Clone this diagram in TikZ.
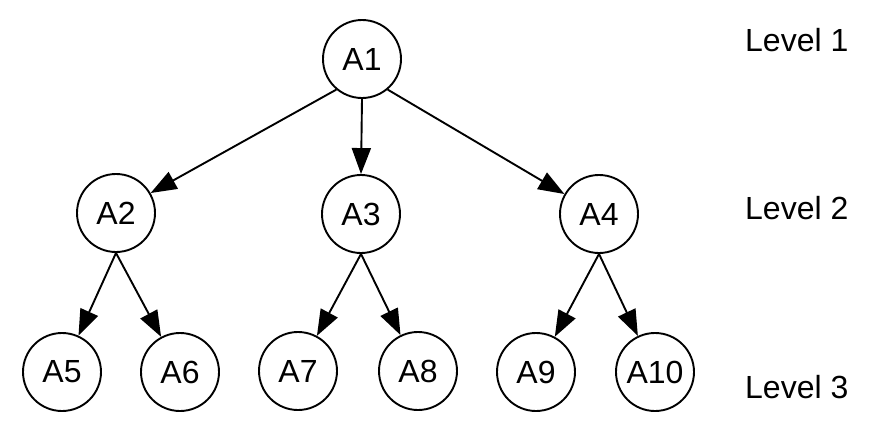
\documentclass[tikz,border=0pt]{standalone}
\usepackage{fontspec}
\setmainfont{Liberation Sans}
\usetikzlibrary{arrows.meta}
\begin{document}
\begin{tikzpicture}[x=1pt,y=-1pt,
  vert/.style={circle,draw,line width=1.9pt,minimum size=78pt,inner sep=0pt,font=\fontsize{32}{36}\selectfont},
  lvl/.style={anchor=west,inner sep=0pt,font=\fontsize{32}{36}\selectfont},
  conn/.style={line width=1.9pt,-{Triangle[length=26pt,width=19pt]}}]
\useasboundingbox (0,0) rectangle (895,429);
\node[vert] (A1) at (362,59) {A1};
\node[vert] (A2) at (116,213) {A2};
\node[vert] (A3) at (361,214) {A3};
\node[vert] (A4) at (599,214) {A4};
\node[vert] (A5) at (62,372) {A5};
\node[vert] (A6) at (180,372) {A6};
\node[vert] (A7) at (298,371) {A7};
\node[vert] (A8) at (418,371) {A8};
\node[vert] (A9) at (536,372) {A9};
\node[vert] (A10) at (655,372) {A10};
\node[lvl] (L1) at (745,40) {Level 1};
\node[lvl] (L2) at (745,208) {Level 2};
\node[lvl] (L3) at (745,387) {Level 3};
\draw[conn] (A1.230) -- (A2.30);
\draw[conn] (A1.south) -- (A3.north);
\draw[conn] (A1.310) -- (A4.150);
\draw[conn] (A2.south) -- (A5);
\draw[conn] (A2.south) -- (A6);
\draw[conn] (A3.south) -- (A7);
\draw[conn] (A3.south) -- (A8);
\draw[conn] (A4.south) -- (A9);
\draw[conn] (A4.south) -- (A10);
\end{tikzpicture}
\end{document}
